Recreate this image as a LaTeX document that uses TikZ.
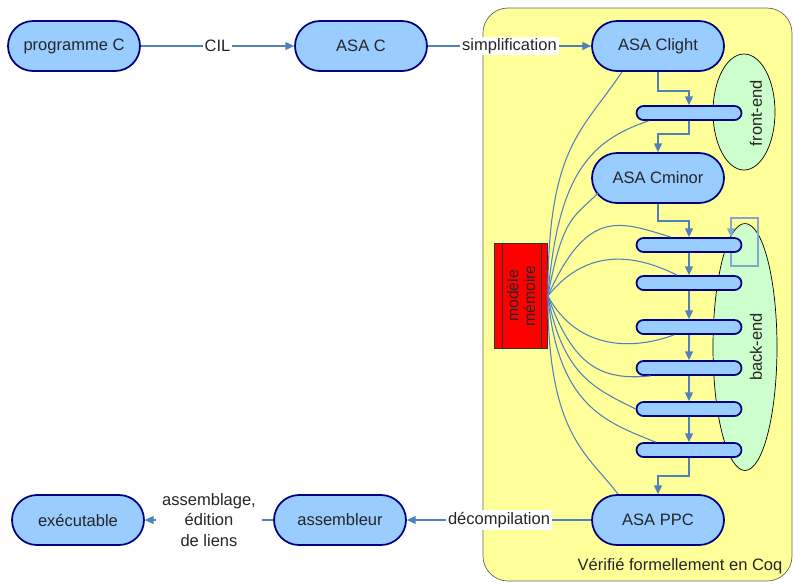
\documentclass[tikz,border=0pt]{standalone}
\usepackage{fontspec}
\setmainfont{Liberation Sans}
\usetikzlibrary{
		arrows.meta,
		calc,
		shapes.geometric
	}
\definecolor{boxblue}{RGB}{153,204,255}
\definecolor{navyline}{RGB}{0,0,128}
\definecolor{flowblue}{RGB}{79,129,189}
\definecolor{coqyellow}{RGB}{255,255,153}
\definecolor{endgreen}{RGB}{204,255,204}
\tikzset{
		>={Triangle[length=5pt,width=4.5pt]},
		ast/.style={draw=navyline, line width=1pt, fill=boxblue, rounded corners=0.5cm,
			minimum width=2.64cm, minimum height=1cm},
		passbar/.style={draw=navyline, line width=1pt, fill=boxblue, rounded corners=0.14cm,
			minimum width=2.1cm, minimum height=0.28cm, inner sep=0pt},
		flow/.style={->, draw=flowblue, line width=0.8pt},
		memlink/.style={draw=flowblue, line width=0.6pt}
	}

\begin{document}
\begin{tikzpicture}[x=0.02cm, y=-0.02cm,
    every node/.style={font=\fontsize{9.4}{11.5}\selectfont, text=black!85}]
    \useasboundingbox (0,0) rectangle (794,583);

    % the part checked in Coq
    \filldraw[fill=coqyellow, draw=black!60, rounded corners=0.5cm] (483,8) rectangle (792,581);
    \node (coq) at (680,566) {Vérifié formellement en Coq};

    % front-end and back-end
    \node[ellipse, draw, fill=endgreen, minimum width=1.24cm, minimum height=2.32cm, inner sep=0pt] (fe) at (744,112) {};
    \node[ellipse, draw, fill=endgreen, minimum width=1.28cm, minimum height=4.94cm, inner sep=0pt] (be) at (745,347) {};
    \node[rotate=90] (fetxt) at (756,113) {front-end};
    \node[rotate=90] (betxt) at (756,347) {back-end};

    % the trees
    \node[ast] (prog) at (74,46) {programme C};
    \node[ast] (asac) at (361,46) {ASA C};
    \node[ast] (clight) at (658,46) {ASA Clight};
    \node[ast] (cminor) at (658,178) {ASA Cminor};
    \node[ast] (ppc) at (658,520) {ASA PPC};
    \node[ast] (asm) at (340,520) {assembleur};
    \node[ast] (exe) at (78,520) {exécutable};

    % the passes
    \node[passbar] (f1) at (689,113) {};
    \foreach \i/\y in {1/245,2/283,3/327,4/368,5/409,6/450}
        \node[passbar] (b\i) at (689,\y) {};

    % memory model
    \node[draw=black!80, fill=red, minimum width=1.06cm, minimum height=2.1cm, inner sep=0pt] (mem) at (521,296) {};
    \draw[black!80] ($(mem.north west)+(8,0)$) -- ($(mem.south west)+(8,0)$);
    \draw[black!80] ($(mem.north east)+(-7,0)$) -- ($(mem.south east)+(-7,0)$);
    \node[rotate=90, align=center, font=\fontsize{9}{9.6}\selectfont] (memtxt) at (mem.center) {modèle\\mémoire};

    % the outer chain
    \draw[flow] (prog) -- node[fill=white, inner sep=1pt] (cil) {CIL} (asac);
    \draw[flow] (asac) -- node[fill=white, inner sep=1pt] (simp) {simplification} (clight);
    \draw[flow] (ppc) -- node[fill=white, inner sep=1pt] (decomp) {décompilation} (asm);
    \draw[flow] (asm) -- node[fill=white, align=center] (assemb) {assemblage,\\édition\\de liens} (exe);

    % the chain of passes
    \draw[flow] (clight.south) -- ++(0,19) -| (f1.north);
    \draw[flow] (f1.south) -- ++(0,13) -| (cminor.north);
    \draw[flow] (cminor.south) -- ++(0,17) -| (b1.north);
    \foreach \i [evaluate=\i as \j using int(\i+1)] in {1,...,5}
        \draw[flow] (b\i) -- (b\j);
    \draw[flow] (b6.south) -- ++(0,18) -| (ppc.north);
    \draw[flow, draw=flowblue!70] ($(b1.south)+(42,0)$) -- ++(0,13) -- ++(27,0) -- ++(0,-48) -- ++(-27,0) -- ($(b1.north)+(42,0)$);

    % every pass uses the memory model
    \draw[memlink] (mem.east) .. controls +(0,-150) and +(-40,60) .. ($(clight.south)+(-36,0)$);
    \draw[memlink] (mem.east) .. controls +(10,-120) and +(-60,20) .. ($(f1.south west)+(13,0)$);
    \draw[memlink] (mem.east) .. controls +(15,-80) and +(-25,25) .. ($(cminor.west)+(7,15)$);
    \draw[memlink] (mem.east) .. controls +(40,-90) and +(-50,-15) .. ($(b1.north)+(-18,0)$);
    \draw[memlink] (mem.east) .. controls +(40,-50) and +(-40,-20) .. ($(b2.north)+(-12,0)$);
    \draw[memlink] (mem.east) .. controls +(30,55) and +(-40,15) .. ($(b3.south)+(-15,0)$);
    \draw[memlink] (mem.east) .. controls +(25,70) and +(-50,5) .. ($(b4.south west)+(15,0)$);
    \draw[memlink] (mem.east) .. controls +(15,80) and +(-40,-20) .. (b5.west);
    \draw[memlink] (mem.east) .. controls +(10,110) and +(-50,-20) .. ($(b6.north west)+(20,0)$);
    \draw[memlink] (mem.east) .. controls +(0,140) and +(-30,-40) .. ($(ppc.north)+(-40,0)$);

\end{tikzpicture}
\end{document}
